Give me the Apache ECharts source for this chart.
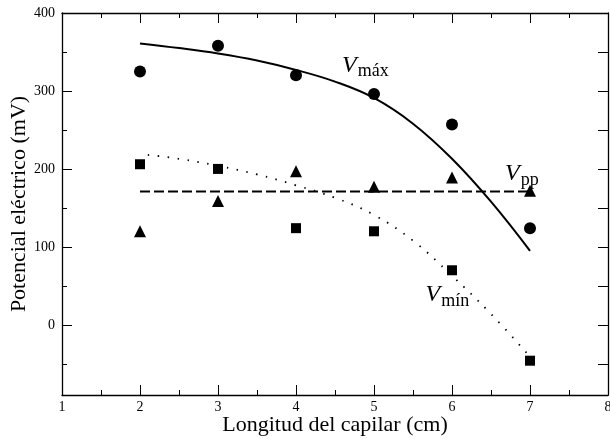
<!DOCTYPE html>
<html>
<head>
<meta charset="utf-8">
<script src="https://cdn.jsdelivr.net/npm/echarts@6/dist/echarts.min.js"></script>
<style>
  html, body { margin: 0; padding: 0; background: #fff; }
  #chart { width: 610px; height: 439px; }
</style>
</head>
<body>
<div id="chart"></div>
<script>
// measured points
var longitud = [2, 3, 4, 5, 6, 7];
var vMax = [325, 358, 320, 296, 257, 124];
var vPp = [120, 159, 197, 177, 189, 172];
var vMin = [206, 200, 124, 120, 70, -46];

// fitted curves
var ajusteMaxX = [2, 2.5, 3, 3.5, 4, 4.5, 5, 5.5, 6, 6.5, 7];
var ajusteMaxY = [361, 355, 348, 339, 327, 312, 291, 258, 213, 158, 95];
var ajustePpX = [2, 7];
var ajustePpY = [171, 171];
var ajusteMinX = [2.1, 2.5, 3, 3.5, 4, 4.5, 5, 5.5, 6, 6.5, 7];
var ajusteMinY = [218, 213, 204, 193, 179, 163, 141, 108, 63, 14, -41];

var yLabels = [0, 100, 200, 300, 400];
var yMinor = [-50, 50, 150, 250, 350];
var yRight = [-50, 0, 50, 100, 150, 200, 250, 300, 350];

function pares(xs, ys) {
    return xs.map(function (x, i) { return [x, ys[i]]; });
}

var serif = '"Liberation Serif", "DejaVu Serif", serif';
var myChart = echarts.init(document.getElementById('chart'));

var tickStyle = { color: '#000', width: 1 };
var lineStyle = { color: '#000', width: 1.3 };

option = {
    backgroundColor: '#fff',
    animation: false,
    grid: { left: 62, right: 2, top: 13, bottom: 44, outerBoundsMode: 'none', containLabel: false },
    xAxis: [{
        type: 'value', min: 1, max: 8, interval: 1, position: 'bottom',
        name: 'Longitud del capilar (cm)', nameLocation: 'middle', nameGap: 19,
        nameMoveOverlap: false,
        nameTextStyle: { fontFamily: serif, fontSize: 22, color: '#000' },
        axisLine: { onZero: false, lineStyle: lineStyle },
        axisTick: { inside: true, length: 10, lineStyle: tickStyle },
        minorTick: { show: true, splitNumber: 2, length: 5, lineStyle: tickStyle },
        axisLabel: { fontFamily: serif, fontSize: 14, color: '#000', margin: 5 },
        splitLine: { show: false }
    }, {
        type: 'value', min: 1, max: 8, interval: 1, position: 'top',
        axisLine: { onZero: false, lineStyle: lineStyle },
        axisTick: { inside: true, length: 10, lineStyle: tickStyle },
        minorTick: { show: true, splitNumber: 2, length: 5, lineStyle: tickStyle },
        axisLabel: { show: false },
        splitLine: { show: false }
    }],
    yAxis: [{
        type: 'value', min: -90, max: 400, position: 'left',
        name: 'Potencial eléctrico (mV)', nameLocation: 'middle', nameGap: 32,
        nameMoveOverlap: false,
        nameTextStyle: { fontFamily: serif, fontSize: 22, color: '#000' },
        axisLine: { onZero: false, lineStyle: lineStyle },
        axisTick: { inside: true, length: 10, lineStyle: tickStyle, customValues: yLabels },
        axisLabel: { fontFamily: serif, fontSize: 14, color: '#000', margin: 7, customValues: yLabels },
        splitLine: { show: false }
    }, {
        type: 'value', min: -90, max: 400, position: 'left', offset: 0,
        axisLine: { show: false, onZero: false },
        axisTick: { inside: true, length: 5, lineStyle: tickStyle, customValues: yMinor },
        axisLabel: { show: false },
        splitLine: { show: false }
    }, {
        type: 'value', min: -90, max: 400, position: 'right',
        axisLine: { onZero: false, lineStyle: lineStyle },
        axisTick: { inside: true, length: 10, lineStyle: tickStyle, customValues: yRight },
        axisLabel: { show: false },
        splitLine: { show: false }
    }],
    series: [{
        name: 'ajuste Vmax', type: 'line', smooth: 0.4, showSymbol: false,
        data: pares(ajusteMaxX, ajusteMaxY),
        lineStyle: { color: '#000', width: 2 }
    }, {
        name: 'ajuste Vpp', type: 'line', showSymbol: false,
        data: pares(ajustePpX, ajustePpY),
        lineStyle: { color: '#000', width: 2, type: [10, 4] }
    }, {
        name: 'ajuste Vmin', type: 'line', smooth: 0.4, showSymbol: false,
        data: pares(ajusteMinX, ajusteMinY),
        lineStyle: { color: '#000', width: 1.8, type: [1.5, 8.5] }
    }, {
        name: 'Vmax', type: 'scatter', symbol: 'circle', symbolSize: 12,
        data: pares(longitud, vMax), itemStyle: { color: '#000', opacity: 1 }
    }, {
        name: 'Vpp', type: 'scatter', symbol: 'triangle', symbolSize: 12,
        data: pares(longitud, vPp), itemStyle: { color: '#000', opacity: 1 }
    }, {
        name: 'Vmin', type: 'scatter', symbol: 'rect', symbolSize: 10,
        data: pares(longitud, vMin), itemStyle: { color: '#000', opacity: 1 }
    }]
};
myChart.setOption(option);

// curve labels, anchored at data coordinates (left, baseline)
var etiquetas = [
    { sub: 'máx', at: [4.59, 317] },
    { sub: 'pp', at: [6.68, 178] },
    { sub: 'mín', at: [5.66, 23] }
];
var graficos = etiquetas.map(function (e) {
    var p = myChart.convertToPixel({ gridIndex: 0 }, e.at);
    return {
        type: 'text', x: p[0], y: p[1],
        style: {
            text: '{v|V}{s|' + e.sub + '}',
            textVerticalAlign: 'bottom',
            rich: {
                v: { fontFamily: serif, fontStyle: 'italic', fontSize: 24, fill: '#000', verticalAlign: 'bottom', padding: [0, 1, 0, 0] },
                s: { fontFamily: serif, fontSize: 18, fill: '#000', verticalAlign: 'bottom', padding: [0, 0, -3, 0] }
            }
        }
    };
});
myChart.setOption({ graphic: graficos });
</script>
</body>
</html>
